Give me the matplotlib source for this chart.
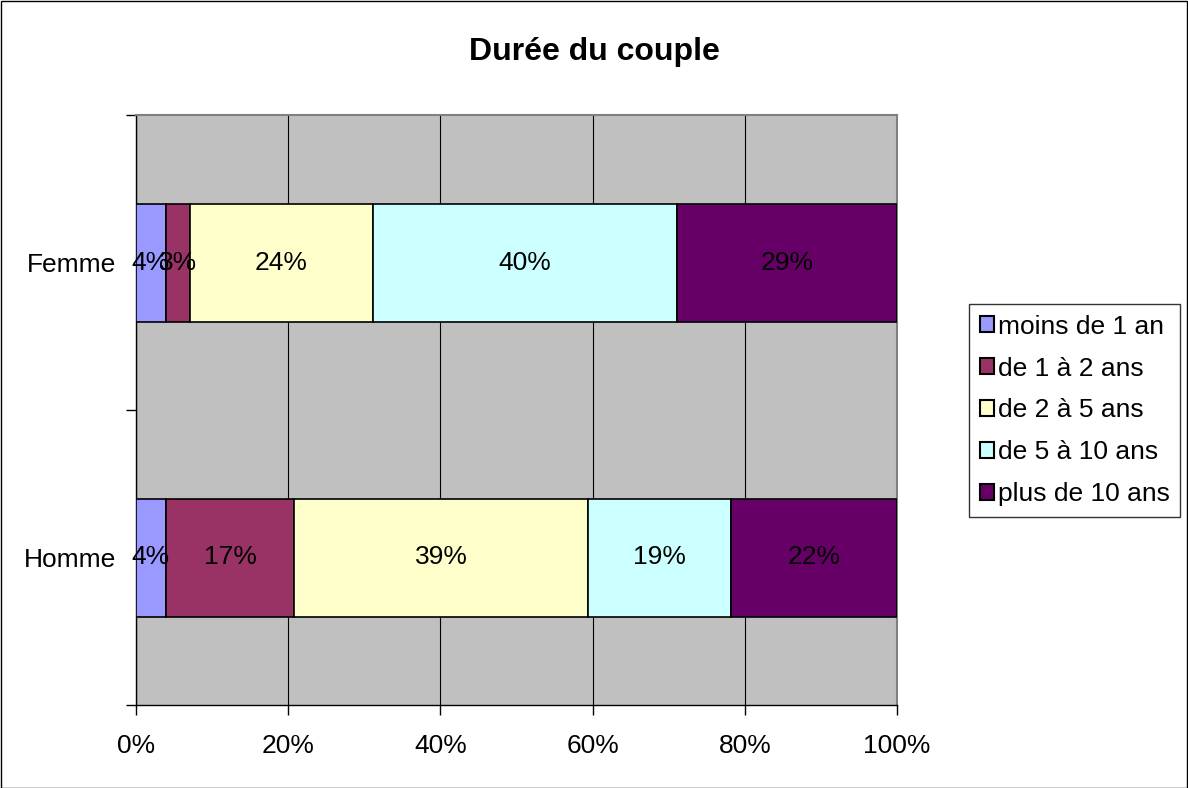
import matplotlib
matplotlib.use("Agg")
import matplotlib.pyplot as plt
from matplotlib.patches import Rectangle
import numpy as np

categories = ["Homme", "Femme"]
series_names = ["moins de 1 an", "de 1 à 2 ans", "de 2 à 5 ans", "de 5 à 10 ans", "plus de 10 ans"]
homme = [3.9, 16.9, 38.6, 18.8, 21.8]
femme = [3.9, 3.2, 24.0, 40.0, 28.9]
colors = ["#9999FF", "#993366", "#FFFFCC", "#CCFFFF", "#660066"]
xtick_labels = ["0%", "20%", "40%", "60%", "80%", "100%"]

plt.rcParams['font.family'] = ['Liberation Sans', 'DejaVu Sans']
FS = 19

fig = plt.figure(figsize=(11.88, 7.88), dpi=100)
fig.patches.append(Rectangle((0.5 / 1188, 0.5 / 788), 1 - 1.5 / 1188, 1 - 1.5 / 788,
                             transform=fig.transFigure, fill=False, edgecolor="black", lw=1.0))

W, H = 1188, 788
ax = fig.add_axes([136 / W, 1 - 705 / H, (897 - 136) / W, (705 - 115) / H])
ax.set_facecolor("#C0C0C0")

data = np.array([homme, femme])
totals = data.sum(axis=1, keepdims=True)
pct = data / totals * 100
ypos = np.array([0.5, 1.5])
left = np.zeros(2)
for i, name in enumerate(series_names):
    ax.barh(ypos, pct[:, i], left=left, height=0.4, color=colors[i],
            edgecolor="black", linewidth=1.2, label=name, zorder=3)
    for j in range(2):
        ax.text(left[j] + pct[j, i] / 2, ypos[j], f"{data[j, i]:.0f}%",
                ha="center", va="center", fontsize=FS, color="black", zorder=4)
    left += pct[:, i]

ax.set_xlim(0, 100)
ax.set_ylim(0, 2)
ax.set_xticks(np.arange(0, 101, 20))
ax.set_xticklabels(xtick_labels, fontsize=FS)
ax.set_yticks([0, 1, 2])
ax.set_yticklabels([])
ax.set_yticks(ypos, minor=True)
ax.set_yticklabels(categories, minor=True, fontsize=FS)
ax.tick_params(axis="y", which="minor", length=0, pad=14)
ax.tick_params(axis="y", which="major", direction="out", length=7, width=1)
ax.tick_params(axis="x", direction="out", length=7, width=1, pad=14)
ax.xaxis.grid(True, color="black", linewidth=0.8, zorder=1)
ax.set_axisbelow(True)
for s in ["top", "right"]:
    ax.spines[s].set_color("#808080")
    ax.spines[s].set_linewidth(1.5)
for s in ["left", "bottom"]:
    ax.spines[s].set_color("black")
    ax.spines[s].set_linewidth(1.0)

fig.text(594 / W, 1 - 52 / H, "Durée du couple", ha="center", va="center",
         fontsize=23, fontweight="bold")

handles, labels = ax.get_legend_handles_labels()
leg = fig.legend(handles, labels, loc="upper left",
                 bbox_to_anchor=(969 / W, 1 - 304 / H), fontsize=FS,
                 frameon=True, fancybox=False, edgecolor="black",
                 handlelength=0.55, handleheight=0.55, handletextpad=0.15,
                 labelspacing=0.68, borderpad=0.4, borderaxespad=0)
leg.get_frame().set_linewidth(1.0)
for p in leg.get_patches():
    p.set_linewidth(1.5)

fig.savefig("out.png", dpi=100)
